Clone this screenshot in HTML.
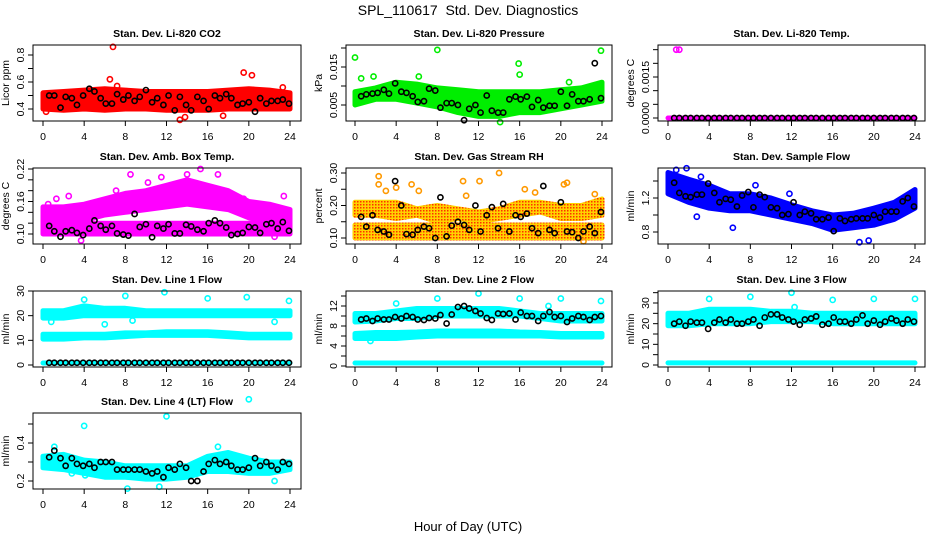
<!DOCTYPE html>
<html><head><meta charset="utf-8"><style>
html,body{margin:0;padding:0;background:#fff;}
svg{display:block;font-family:"Liberation Sans",sans-serif;}
</style></head><body>
<svg id="chart" width="936" height="540" viewBox="0 0 936 540" xmlns="http://www.w3.org/2000/svg">
<defs>
<pattern id="rhpat" width="3" height="3" patternUnits="userSpaceOnUse"><rect width="3" height="3" fill="#ffd200"/><rect x="0" y="0" width="1.5" height="1.5" fill="#ff3000"/></pattern>
</defs>
<text x="468" y="15" text-anchor="middle" font-size="14" xml:space="preserve">SPL_110617&#160; Std. Dev. Diagnostics</text>
<text x="468" y="531" text-anchor="middle" font-size="13">Hour of Day (UTC)</text>
</svg>
<script>
const NS="http://www.w3.org/2000/svg";
const svg=document.getElementById('chart');
const bandHours=[0,2,4,6,8,10,12,14,16,18,20,22,24];
const blackHours=[0.6,1.1,1.7,2.2,2.8,3.3,3.9,4.5,5.0,5.6,6.1,6.7,7.2,7.8,8.3,8.9,9.4,10.0,10.6,11.1,11.7,12.2,12.8,13.3,13.9,14.4,15.0,15.6,16.1,16.7,17.2,17.8,18.3,18.9,19.4,20.0,20.6,21.1,21.7,22.2,22.8,23.3,23.9];
const xTicks=[0,4,8,12,16,20,24];

// CO2
const co2Lo=[0.40,0.39,0.40,0.39,0.40,0.40,0.39,0.39,0.39,0.40,0.40,0.40,0.40];
const co2Hi=[0.52,0.53,0.54,0.55,0.54,0.53,0.53,0.53,0.53,0.54,0.55,0.54,0.52];
const co2Out=[[6.8,0.86],[6.5,0.62],[19.5,0.67],[20.3,0.65],[13.3,0.32],[13.8,0.34],[23.3,0.56],[7.2,0.57],[17.5,0.35],[0.3,0.38]];
const co2Black=[0.50,0.50,0.41,0.49,0.48,0.43,0.50,0.55,0.53,0.48,0.44,0.44,0.51,0.47,0.50,0.46,0.49,0.54,0.45,0.48,0.43,0.50,0.39,0.49,0.43,0.39,0.49,0.46,0.40,0.50,0.48,0.51,0.48,0.43,0.44,0.45,0.38,0.48,0.44,0.46,0.46,0.47,0.44];
// Pressure
const presLo=[0.005,0.0065,0.0065,0.0055,0.0045,0.003,0.002,0.002,0.003,0.003,0.004,0.005,0.006];
const presHi=[0.0085,0.0095,0.011,0.0105,0.0095,0.009,0.0085,0.0085,0.0085,0.0085,0.009,0.0095,0.011];
const presOut=[[0,0.0175],[0.6,0.012],[1.8,0.0125],[6.2,0.0125],[8,0.0195],[15.9,0.0159],[16,0.013],[23.9,0.0193],[20.8,0.011],[14.1,0.0005]];
const presBlack=[0.0073,0.0078,0.0080,0.0082,0.0090,0.0080,0.0107,0.0085,0.0082,0.0073,0.0058,0.0060,0.0093,0.0088,0.0043,0.0055,0.0055,0.0050,0.0010,0.0040,0.0050,0.0030,0.0075,0.0035,0.0030,0.0030,0.0065,0.0072,0.0065,0.0072,0.0045,0.0063,0.0043,0.0048,0.0048,0.0085,0.0048,0.0078,0.0060,0.0060,0.0065,0.0160,0.0068];
// Li-820 temp
const tempLo=[0,0,0,0,0,0,0,0,0,0,0,0,0];
const tempHi=[0,0,0,0,0,0,0,0,0,0,0,0,0];
const tempOut=[[0.8,0.0025],[1.1,0.0025]];
const tempBlack=[0,0,0,0,0,0,0,0,0,0,0,0,0,0,0,0,0,0,0,0,0,0,0,0,0,0,0,0,0,0,0,0,0,0,0,0,0,0,0,0,0,0,0];
// Amb box temp
const ambUpLo=[0.12,0.12,0.125,0.135,0.14,0.145,0.15,0.155,0.15,0.145,0.13,0.12,0.12];
const ambUpHi=[0.15,0.15,0.155,0.165,0.175,0.18,0.19,0.20,0.19,0.18,0.16,0.155,0.145];
const ambLowLo=[0.10,0.10,0.10,0.10,0.10,0.10,0.10,0.10,0.10,0.10,0.10,0.10,0.10];
const ambLowHi=[0.125,0.125,0.12,0.12,0.12,0.12,0.12,0.12,0.12,0.12,0.12,0.12,0.12];
const ambOut=[[8.5,0.21],[10.2,0.195],[11.5,0.205],[14,0.21],[15.3,0.22],[17,0.21],[3.7,0.088],[0.5,0.155],[2.5,0.17],[22.5,0.095],[23.4,0.17],[1.3,0.165],[7.1,0.18],[5.5,0.16],[9,0.165],[19.5,0.165],[21.5,0.14]];
const ambBlack=[0.115,0.105,0.095,0.105,0.107,0.102,0.098,0.110,0.125,0.115,0.108,0.115,0.101,0.099,0.097,0.137,0.113,0.118,0.094,0.115,0.11,0.118,0.101,0.101,0.117,0.114,0.108,0.105,0.12,0.125,0.12,0.112,0.098,0.100,0.102,0.113,0.112,0.102,0.118,0.120,0.110,0.122,0.106];
// Gas stream RH
const rhLowLo=[0.10,0.10,0.10,0.10,0.10,0.10,0.10,0.10,0.10,0.10,0.10,0.10,0.10];
const rhLowHi=[0.14,0.14,0.14,0.14,0.14,0.14,0.14,0.14,0.14,0.14,0.14,0.14,0.14];
const rhUpLo=[0.17,0.17,0.16,0.17,0.15,0.16,0.15,0.16,0.17,0.18,0.16,0.16,0.17];
const rhUpHi=[0.21,0.21,0.21,0.19,0.20,0.19,0.18,0.19,0.21,0.21,0.20,0.20,0.22];
const rhOut=[[2.3,0.29],[2.3,0.265],[4,0.255],[5.5,0.265],[6.2,0.245],[10.5,0.275],[12.1,0.275],[14,0.30],[10.8,0.23],[16.5,0.25],[17.5,0.24],[20.3,0.265],[20.6,0.27],[23.3,0.235],[22.2,0.09],[3,0.245]];
const rhBlack=[0.165,0.135,0.17,0.125,0.12,0.11,0.275,0.20,0.112,0.11,0.125,0.135,0.13,0.10,0.225,0.105,0.138,0.15,0.14,0.125,0.20,0.12,0.17,0.195,0.13,0.205,0.12,0.17,0.165,0.175,0.13,0.115,0.26,0.125,0.115,0.21,0.12,0.118,0.10,0.12,0.135,0.115,0.18];
// Sample flow
const sfLo=[1.25,1.15,1.08,1.05,1.05,1.0,0.95,0.90,0.82,0.85,0.88,0.95,1.08];
const sfHi=[1.50,1.42,1.35,1.25,1.25,1.20,1.12,1.05,1.00,1.02,1.08,1.15,1.30];
const sfOut=[[1.8,1.55],[6.3,0.85],[8.5,1.35],[11.8,1.25],[18.6,0.68],[19.5,0.70],[2.8,0.98],[0.8,1.53],[3.2,1.45]];
const sfBlack=[1.38,1.26,1.22,1.21,1.24,1.24,1.37,1.26,1.15,1.19,1.18,1.1,1.23,1.27,1.09,1.24,1.21,1.09,1.08,1.0,1.01,1.15,1.0,1.04,1.02,0.95,0.95,0.97,0.81,0.96,0.93,0.95,0.96,0.96,0.96,1.0,0.97,1.04,1.04,1.04,1.16,1.2,1.1];
// Line 1
const l1UpLo=[19,19,20,20,20,20,20,20,20,20,20,20,20];
const l1UpHi=[22,22,24,23,23,22,22,22,22,22,22,22,22];
const l1MidLo=[10.5,10.5,11,11,11.5,12,12,12,12,11.5,11,11,11];
const l1MidHi=[12.5,12.5,12.5,12.5,13,13,13.5,13.5,13.5,13,12.5,12.5,12.5];
const l1BotLo=[0.8,0.8,0.8,0.8,0.8,0.8,0.8,0.8,0.8,0.8,0.8,0.8,0.8];
const l1BotHi=[0.8,0.8,0.8,0.8,0.8,0.8,0.8,0.8,0.8,0.8,0.8,0.8,0.8];
const l1Out=[[0.8,17.5],[4,26.5],[8,28],[11.8,29.5],[16,27],[19.8,27.5],[23.9,26],[6,16.5],[22.5,17.5],[8.7,18]];
const l1Black=[0.9,0.9,0.9,0.9,0.9,0.9,0.9,0.9,0.9,0.9,0.9,0.9,0.9,0.9,0.9,0.9,0.9,0.9,0.9,0.9,0.9,0.9,0.9,0.9,0.9,0.9,0.9,0.9,0.9,0.9,0.9,0.9,0.9,0.9,0.9,0.9,0.9,0.9,0.9,0.9,0.9,0.9,0.9];
// Line 2
const l2UpLo=[8.8,9,9.5,9.5,10,10,10,10,10,9.5,9,9,9];
const l2UpHi=[10.5,10.5,11,11.5,11.5,11.5,11.5,11.5,11,10.5,10.5,10.5,10.5];
const l2MidLo=[5.5,5.5,5.5,5.8,6,6,6,6,6,6,5.8,5.8,5.8];
const l2MidHi=[6.5,6.7,6.7,6.8,7,7,7,7,6.8,6.7,6.5,6.5,6.5];
const l2BotLo=[0.6,0.6,0.6,0.6,0.6,0.6,0.6,0.6,0.6,0.6,0.6,0.6,0.6];
const l2BotHi=[0.6,0.6,0.6,0.6,0.6,0.6,0.6,0.6,0.6,0.6,0.6,0.6,0.6];
const l2Out=[[4,12.5],[8,13.5],[12,14.5],[16,13.5],[20,13.5],[23.9,13],[18.8,12],[1.5,5]];
const l2Black=[9.3,9.5,9,9.5,9.3,9.3,9.8,9.5,10,9.8,9.3,9.2,9.6,9.5,10.2,8.5,10.3,11.8,12,11.5,11,10.5,9.6,9.2,10.5,10.4,10.5,9.3,10.7,10,10,9,10,10.8,9.8,10,8.8,9.5,10,9.8,9.2,9.8,10];
// Line 3
const l3Lo=[19,19,20,20,20,21,21,21,20,20,20,20,20];
const l3Hi=[25,25,27,27,27,26,26,25,25,25,25,25,25];
const l3BotLo=[1,1,1,1,1,1,1,1,1,1,1,1,1];
const l3BotHi=[1,1,1,1,1,1,1,1,1,1,1,1,1];
const l3Out=[[4,32],[8,33],[12,35],[16,31.5],[20,32],[24,32],[12.3,28]];
const l3Black=[20,21,19,21,20.5,20.5,17.5,20.5,22,20.5,22,20,20,21,22,19,23,24.5,24.5,23,22,21,19.5,22,22.5,23.5,19.5,20,23,21,21,20,22,24,20,21.5,19.5,21,22.5,21.5,20,22,21];
// Line 4
const l4Lo=[0.27,0.26,0.24,0.22,0.22,0.21,0.21,0.22,0.25,0.25,0.24,0.24,0.26];
const l4Hi=[0.33,0.34,0.31,0.30,0.28,0.28,0.28,0.28,0.33,0.35,0.32,0.30,0.30];
const l4Out=[[4,0.49],[12,0.54],[20,0.63],[8.2,0.16],[11.3,0.17],[22.5,0.2],[2.8,0.24],[17,0.38],[4.1,0.23],[1.1,0.38]];
const l4Black=[0.325,0.36,0.32,0.28,0.32,0.29,0.28,0.29,0.27,0.3,0.3,0.3,0.26,0.26,0.26,0.26,0.26,0.25,0.24,0.25,0.22,0.27,0.26,0.29,0.27,0.2,0.2,0.25,0.29,0.31,0.29,0.3,0.28,0.26,0.26,0.27,0.32,0.28,0.3,0.28,0.26,0.3,0.29];

const cols=[{l:33,r:301,x0:43,x24:290},{l:346,r:612,x0:355,x24:602},{l:658,r:925,x0:668,x24:915}];
const rowsTop=[45,168,291,413];
const H=76;

function el(tag,attrs,parent){const e=document.createElementNS(NS,tag);for(const k in attrs)e.setAttribute(k,attrs[k]);(parent||svg).appendChild(e);return e;}

const panels=[
 {name:'co2',title:'Stan. Dev. Li-820 CO2',ylab:'Licor ppm',c:0,r:0,col:'#ff0000',ref:[0.4,109,0.8,55],ticks:[0.4,0.5,0.6,0.7,0.8],labels:['0.4','0.6','0.8'],bands:[[co2Lo,co2Hi]],out:co2Out,black:co2Black},
 {name:'pressure',title:'Stan. Dev. Li-820 Pressure',ylab:'kPa',c:1,r:0,col:'#00ee00',ref:[0.005,105,0.015,67],ticks:[0.005,0.010,0.015,0.020],labels:['0.005','0.015'],bands:[[presLo,presHi]],out:presOut,black:presBlack},
 {name:'li820-temp',title:'Stan. Dev. Li-820 Temp.',ylab:'degrees C',c:2,r:0,col:'#ff00ff',ref:[0,118,0.0015,77],ticks:[0,0.0005,0.001,0.0015,0.002,0.0025],labels:['0.0000','0.0015'],bands:[[tempLo,tempHi]],out:tempOut,black:tempBlack},
 {name:'amb-box-temp',title:'Stan. Dev. Amb. Box Temp.',ylab:'degrees C',c:0,r:1,col:'#ff00ff',ref:[0.10,234,0.22,169],ticks:[0.10,0.12,0.14,0.16,0.18,0.20,0.22],labels:['0.10','0.16','0.22'],bands:[[ambUpLo,ambUpHi],[ambLowLo,ambLowHi]],out:ambOut,black:ambBlack},
 {name:'gas-rh',title:'Stan. Dev. Gas Stream RH',ylab:'percent',c:1,r:1,col:'url(#rhpat)',ref:[0.10,238,0.30,173],ticks:[0.10,0.15,0.20,0.25,0.30],labels:['0.10','0.20','0.30'],bands:[[rhLowLo,rhLowHi],[rhUpLo,rhUpHi]],out:rhOut,black:rhBlack,outCol:'#ff9900'},
 {name:'sample-flow',title:'Stan. Dev. Sample Flow',ylab:'ml/min',c:2,r:1,col:'#0000ff',ref:[0.8,232,1.2,198],ticks:[0.8,1.0,1.2,1.4],labels:['0.8','1.2'],bands:[[sfLo,sfHi]],out:sfOut,black:sfBlack},
 {name:'line1-flow',title:'Stan. Dev. Line 1 Flow',ylab:'ml/min',c:0,r:2,col:'#00ffff',ref:[0,365,30,291],ticks:[0,10,20,30],labels:['0','10','20','30'],bands:[[l1UpLo,l1UpHi],[l1MidLo,l1MidHi],[l1BotLo,l1BotHi]],out:l1Out,black:l1Black},
 {name:'line2-flow',title:'Stan. Dev. Line 2 Flow',ylab:'ml/min',c:1,r:2,col:'#00ffff',ref:[0,366,12,306],ticks:[0,2,4,6,8,10,12,14],labels:['0','4','8','12'],bands:[[l2UpLo,l2UpHi],[l2MidLo,l2MidHi],[l2BotLo,l2BotHi]],out:l2Out,black:l2Black},
 {name:'line3-flow',title:'Stan. Dev. Line 3 Flow',ylab:'ml/min',c:2,r:2,col:'#00ffff',ref:[0,365,30,303],ticks:[0,5,10,15,20,25,30,35],labels:['0','10','20','30'],bands:[[l3Lo,l3Hi],[l3BotLo,l3BotHi]],out:l3Out,black:l3Black},
 {name:'line4-flow',title:'Stan. Dev. Line 4 (LT) Flow',ylab:'ml/min',c:0,r:3,col:'#00ffff',ref:[0.2,481,0.4,443],ticks:[0.2,0.3,0.4,0.5],labels:['0.2','0.4'],bands:[[l4Lo,l4Hi]],out:l4Out,black:l4Black}
];

panels.forEach(p=>{
 const C=cols[p.c], top=rowsTop[p.r], bot=top+H;
 const xs=h=>C.x0+(C.x24-C.x0)*h/24;
 const ys=v=>p.ref[1]+(v-p.ref[0])*(p.ref[3]-p.ref[1])/(p.ref[2]-p.ref[0]);
 const g=el('g',{});
 
 
 const t=el('text',{x:(C.l+C.r)/2,y:top-8,'text-anchor':'middle','font-size':'10.5','font-weight':'bold'},g);
 t.textContent=p.title;
 
 
 p.bands.forEach((b,bi)=>{
  const lo=b[0],hi=b[1];
  let pts=bandHours.map((h,i)=>xs(h).toFixed(1)+','+ys(hi[i]).toFixed(1));
  pts=pts.concat(bandHours.slice().reverse().map((h,j)=>{const i=bandHours.length-1-j;return xs(h).toFixed(1)+','+ys(lo[i]).toFixed(1);}));
  const poly=el('polygon',{points:pts.join(' '),fill:p.col,stroke:p.col,'stroke-width':'5','stroke-linejoin':'round'},g);
  
  
 });
 p.out.forEach(o=>{
  const c=el('circle',{cx:xs(o[0]),cy:ys(o[1]),r:2.6,fill:'none',stroke:p.outCol||p.col,'stroke-width':'1.6'},g);
  
  
 });
 const n=Math.min(p.black.length,blackHours.length);
 for(let i=0;i<n;i++){
  const c=el('circle',{cx:xs(blackHours[i]),cy:ys(p.black[i]),r:2.6,fill:'none',stroke:'#000','stroke-width':'1.6'},g);
  
  
 }
 const box=el('rect',{x:C.l,y:top,width:C.r-C.l,height:H,fill:'none',stroke:'#000','stroke-width':'1'},g);
 
 
 el('line',{x1:xs(0),x2:xs(24),y1:bot,y2:bot,stroke:'#000'},g);
 xTicks.forEach(h=>{
  el('line',{x1:xs(h),x2:xs(h),y1:bot,y2:bot+5,stroke:'#000'},g);
  const tx=el('text',{x:xs(h),y:bot+19,'text-anchor':'middle','font-size':'10.5'},g);
  tx.textContent=h;
  
  
 });
 const ty=p.ticks.map(ys);
 el('line',{x1:C.l,x2:C.l,y1:Math.min(...ty),y2:Math.max(...ty),stroke:'#000'},g);
 p.ticks.forEach(v=>{el('line',{x1:C.l-5,x2:C.l,y1:ys(v),y2:ys(v),stroke:'#000'},g);});
 p.labels.forEach(l=>{
  const yy=ys(parseFloat(l)),xx=C.l-9;
  const tl=el('text',{x:xx,y:yy,'text-anchor':'middle','font-size':'10.5',transform:`rotate(-90 ${xx} ${yy})`},g);
  tl.textContent=l;
  
  
 });
 const yx=C.l-24,yy=(top+bot)/2;
 const yl=el('text',{x:yx,y:yy,'text-anchor':'middle','font-size':'10.5',transform:`rotate(-90 ${yx} ${yy})`},g);
 yl.textContent=p.ylab;
 
 
});
</script>
</body></html>
